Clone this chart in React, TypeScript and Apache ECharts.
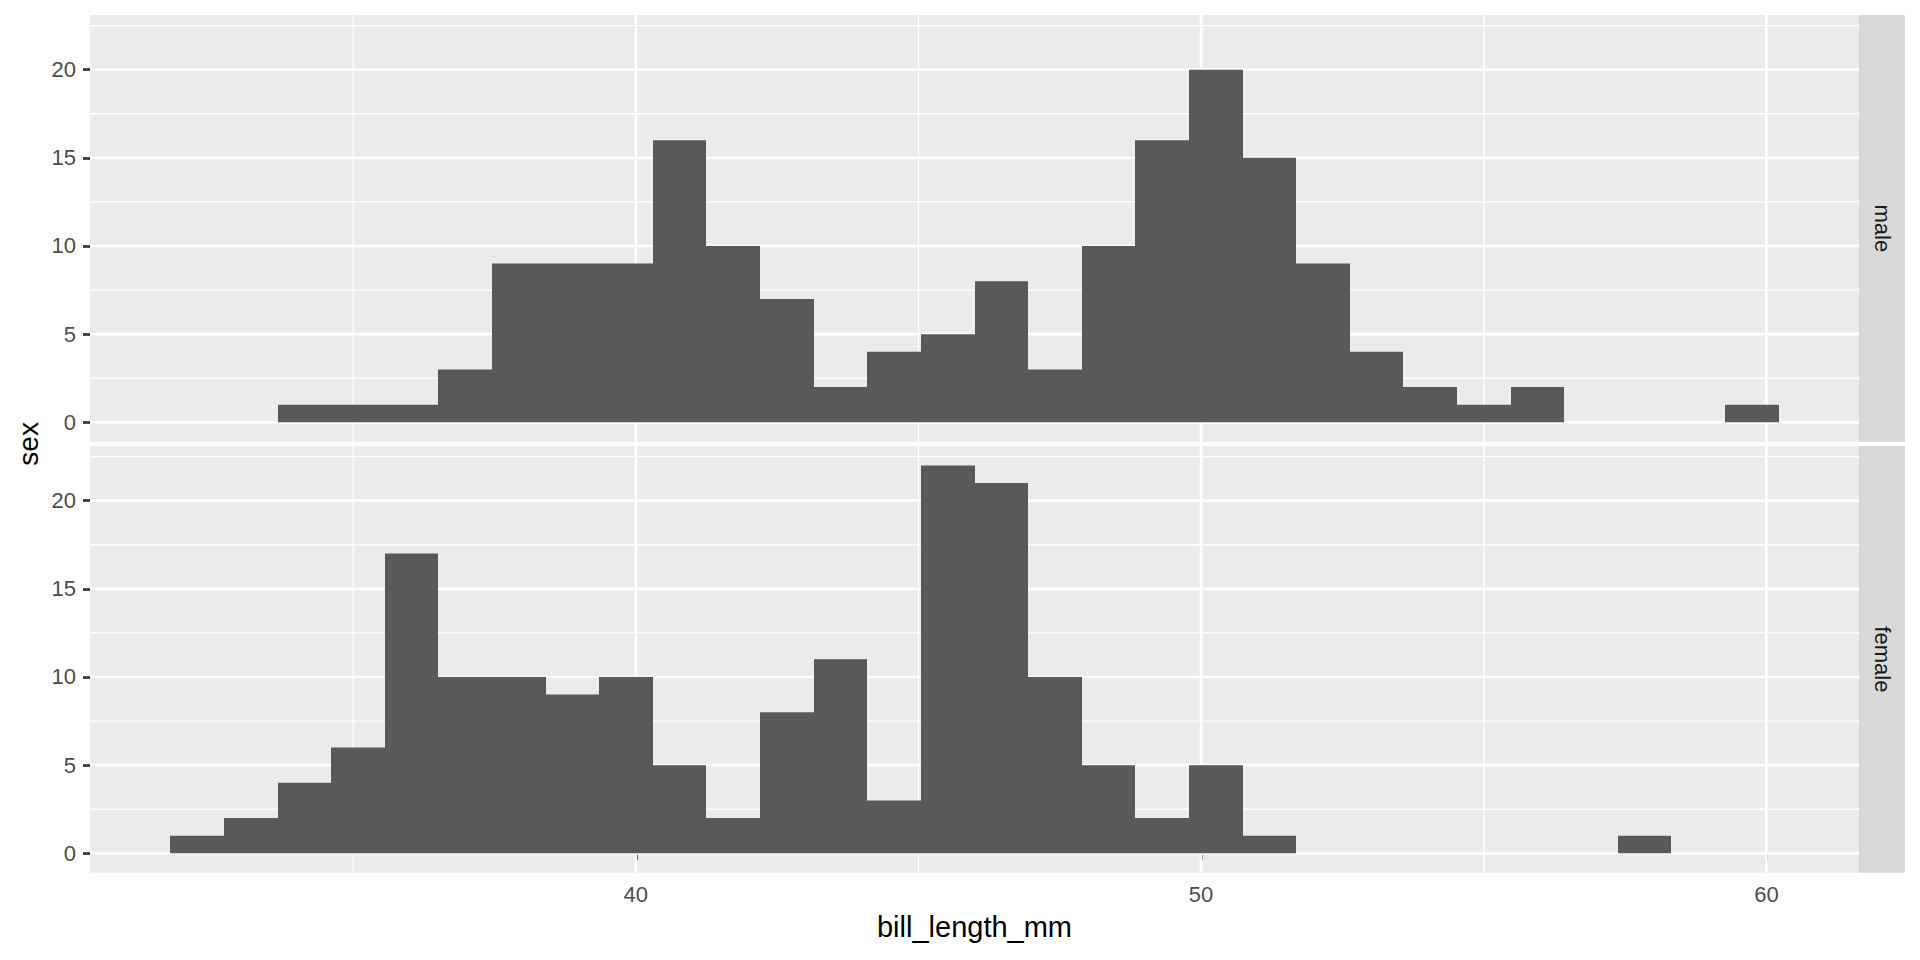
import React, { useEffect, useRef } from "react";
import * as echarts from "echarts";

// ---- data ----
const binEdges = [
  31.767241, 32.715517, 33.663793, 34.612069, 35.560345, 36.508621, 37.456897,
  38.405172, 39.353448, 40.301724, 41.25, 42.198276, 43.146552, 44.094828,
  45.043103, 45.991379, 46.939655, 47.887931, 48.836207, 49.784483, 50.732759,
  51.681034, 52.62931, 53.577586, 54.525862, 55.474138, 56.422414, 57.37069,
  58.318966, 59.267241, 60.215517,
];
const maleCounts = [0, 0, 1, 1, 1, 3, 9, 9, 9, 16, 10, 7, 2, 4, 5, 8, 3, 10, 16, 20, 15, 9, 4, 2, 1, 2, 0, 0, 0, 1];
const femaleCounts = [1, 2, 4, 6, 17, 10, 10, 9, 10, 5, 2, 8, 11, 3, 22, 21, 10, 5, 2, 5, 1, 0, 0, 0, 0, 0, 0, 1, 0, 0];
const facetLabels = ["male", "female"];
const xMajorTicks = [40, 50, 60];
const xMinorBreaks = [35, 45, 55];
const yMajorTicks = [0, 5, 10, 15, 20];
const yMinorBreaks = [2.5, 7.5, 12.5, 17.5, 22.5];
const xLimits = [30.344827, 61.637931];
const yLimits = [-1.1, 23.1];
const xTitle = "bill_length_mm";
const yTitle = "sex";

const FONT = '"Liberation Sans", Arial, Helvetica, sans-serif';

export default function App() {
  const ref = useRef<HTMLDivElement>(null);

  useEffect(() => {
    if (!ref.current) return;
    const chart = echarts.init(ref.current, undefined, { renderer: "svg" });

    const panelLeft = 90;
    const panelRight = 1859;
    const panelH = 426.7;
    const tops = [15, 446];
    const stripW = 46;

    const facetCounts = [maleCounts, femaleCounts];

    const grids = tops.map((t) => ({
      left: panelLeft,
      width: panelRight - panelLeft,
      top: t,
      height: panelH,
      show: true,
      backgroundColor: "#EBEBEB",
      borderWidth: 0,
      containLabel: false,
    }));

    const xAxes = tops.map((_, i) => ({
      gridIndex: i,
      type: "value",
      min: xLimits[0],
      max: xLimits[1],
      axisLine: { show: false },
      splitLine: { show: false },
      axisTick:
        i === 1
          ? { show: true, customValues: xMajorTicks, length: 7, lineStyle: { color: "#333333", width: 2.7 } }
          : { show: false },
      axisLabel:
        i === 1
          ? { show: true, customValues: xMajorTicks, color: "#4D4D4D", fontSize: 22, margin: 11, fontFamily: FONT }
          : { show: false },
    }));

    const yAxes = tops.map((_, i) => ({
      gridIndex: i,
      type: "value",
      min: yLimits[0],
      max: yLimits[1],
      axisLine: { show: false },
      splitLine: { show: false },
      axisTick: { show: true, customValues: yMajorTicks, length: 7, lineStyle: { color: "#333333", width: 2.7 } },
      axisLabel: { show: true, customValues: yMajorTicks, color: "#4D4D4D", fontSize: 22, margin: 14, fontFamily: FONT },
    }));

    const series: any[] = [];
    tops.forEach((_, i) => {
      // vertical grid lines
      series.push({
        type: "custom",
        xAxisIndex: i,
        yAxisIndex: i,
        silent: true,
        data: [...xMinorBreaks.map((v) => [v, 0, 0]), ...xMajorTicks.map((v) => [v, 0, 1])],
        encode: { x: 0, y: 1 },
        renderItem: (params: any, api: any) => {
          const cs = params.coordSys;
          const x = api.coord([api.value(0), 0])[0];
          return {
            type: "line",
            shape: { x1: x, y1: cs.y, x2: x, y2: cs.y + cs.height },
            style: { stroke: "#FFFFFF", lineWidth: api.value(2) ? 2.7 : 1.35 },
          };
        },
      });
      // horizontal grid lines
      series.push({
        type: "custom",
        xAxisIndex: i,
        yAxisIndex: i,
        silent: true,
        data: [...yMinorBreaks.map((v) => [xLimits[0], v, 0]), ...yMajorTicks.map((v) => [xLimits[0], v, 1])],
        encode: { x: 0, y: 1 },
        renderItem: (params: any, api: any) => {
          const cs = params.coordSys;
          const y = api.coord([xLimits[0], api.value(1)])[1];
          return {
            type: "line",
            shape: { x1: cs.x, y1: y, x2: cs.x + cs.width, y2: y },
            style: { stroke: "#FFFFFF", lineWidth: api.value(2) ? 2.7 : 1.35 },
          };
        },
      });
      // histogram bars
      const counts = facetCounts[i];
      series.push({
        type: "custom",
        name: facetLabels[i],
        xAxisIndex: i,
        yAxisIndex: i,
        data: counts
          .map((c, k) => [binEdges[k], binEdges[k + 1], c])
          .filter((d) => d[2] > 0),
        encode: { x: [0, 1], y: 2 },
        renderItem: (_params: any, api: any) => {
          const p0 = api.coord([api.value(0), api.value(2)]);
          const p1 = api.coord([api.value(1), 0]);
          const x0 = Math.round(p0[0]);
          const x1 = Math.round(p1[0]);
          return {
            type: "rect",
            shape: { x: x0, y: p0[1], width: x1 - x0, height: p1[1] - p0[1] },
            style: { fill: "#595959" },
          };
        },
      });
    });

    const graphic: any[] = [];
    tops.forEach((t, i) => {
      graphic.push({
        type: "rect",
        shape: { x: panelRight, y: t, width: stripW, height: panelH },
        style: { fill: "#D9D9D9" },
        silent: true,
      });
      graphic.push({
        type: "text",
        x: panelRight + stripW / 2,
        y: t + panelH / 2,
        rotation: -Math.PI / 2,
        style: {
          text: facetLabels[i],
          fontSize: 22,
          fontFamily: FONT,
          fill: "#1A1A1A",
          align: "center",
          verticalAlign: "middle",
        },
        silent: true,
      });
    });
    graphic.push({
      type: "text",
      x: (panelLeft + panelRight) / 2,
      y: 927,
      style: {
        text: xTitle,
        fontSize: 29,
        fontFamily: FONT,
        fill: "#000000",
        align: "center",
        verticalAlign: "middle",
      },
      silent: true,
    });
    graphic.push({
      type: "text",
      x: 28,
      y: (tops[0] + tops[1] + panelH) / 2,
      rotation: Math.PI / 2,
      style: {
        text: yTitle,
        fontSize: 28,
        fontFamily: FONT,
        fill: "#000000",
        align: "center",
        verticalAlign: "middle",
      },
      silent: true,
    });

    chart.setOption({
      animation: false,
      backgroundColor: "#FFFFFF",
      textStyle: { fontFamily: FONT },
      grid: grids,
      xAxis: xAxes,
      yAxis: yAxes,
      series,
      graphic,
    });

    return () => chart.dispose();
  }, []);

  return (
    <div
      ref={ref}
      style={{ position: "absolute", left: 0, top: 0, width: 1920, height: 960 }}
    />
  );
}
